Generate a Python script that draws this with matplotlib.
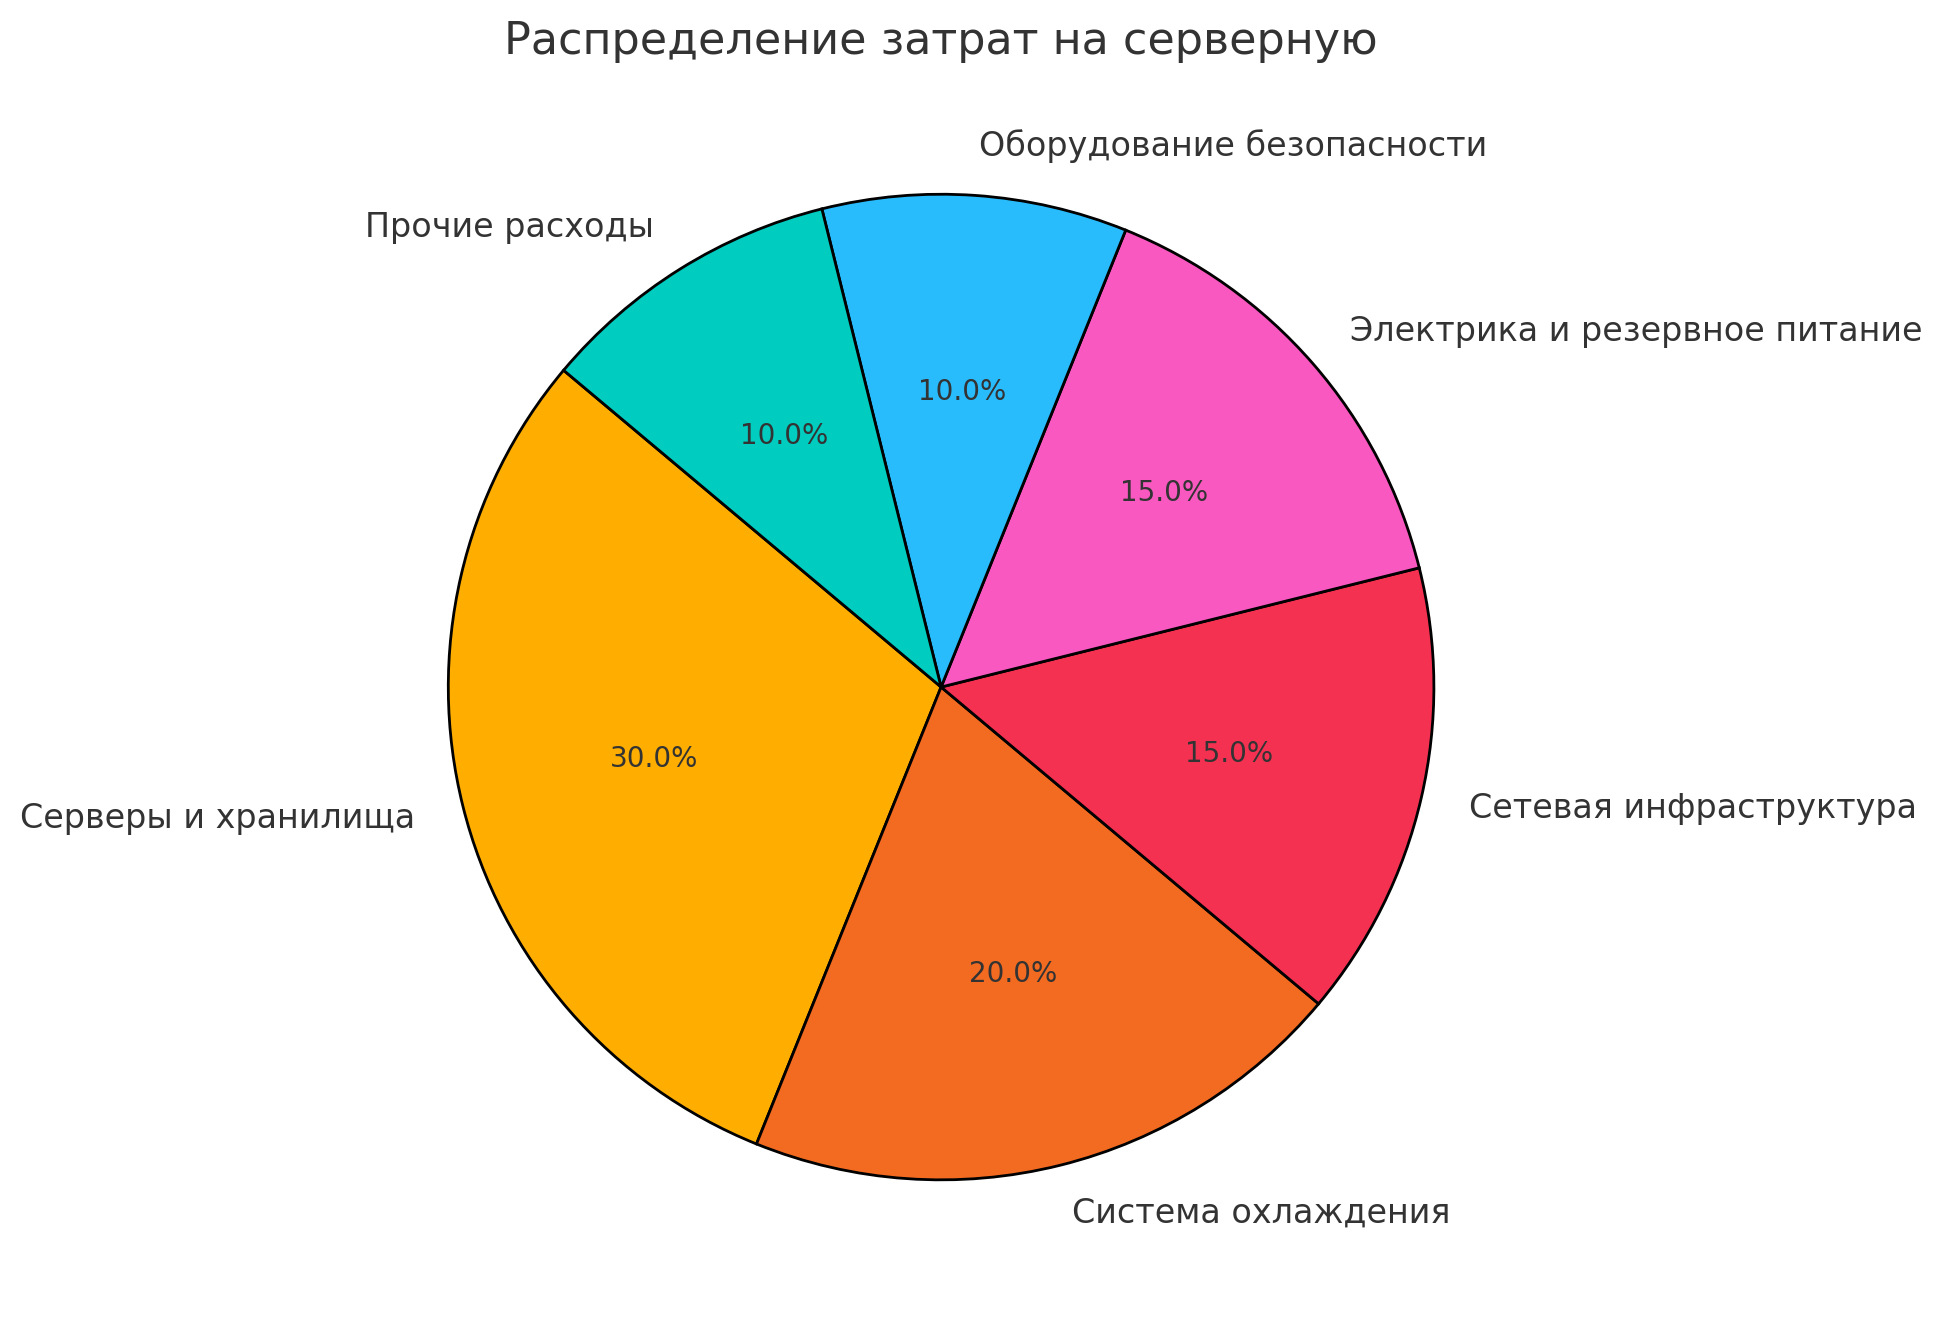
import matplotlib.pyplot as plt

labels = ["Серверы и хранилища", "Система охлаждения", "Сетевая инфраструктура",
          "Электрика и резервное питание", "Оборудование безопасности", "Прочие расходы"]
shares = [30, 20, 15, 15, 10, 10]
colors = ["#FFAE00", "#F26B21", "#F53152", "#F858C0", "#29BCFD", "#00CCBF"]

fig = plt.figure(figsize=(9.71, 6.61), dpi=200)
ax = fig.add_axes([0.1674, 0.0143, 0.6344, 0.932])

wedges, texts, autotexts = ax.pie(
    shares, labels=labels, colors=colors, autopct="%1.1f%%", startangle=140,
    wedgeprops={"edgecolor": "black", "linewidth": 1},
    textprops={"color": "#333333", "fontsize": 12})
for t in autotexts:
    t.set_fontsize(10)
ax.set_xlim(-1.25, 1.25)
ax.set_ylim(-1.25, 1.25)
ax.set_aspect("equal")
ax.set_title("Распределение затрат на серверную", fontsize=16, color="#333333")

fig.savefig("out.png", dpi=200)
